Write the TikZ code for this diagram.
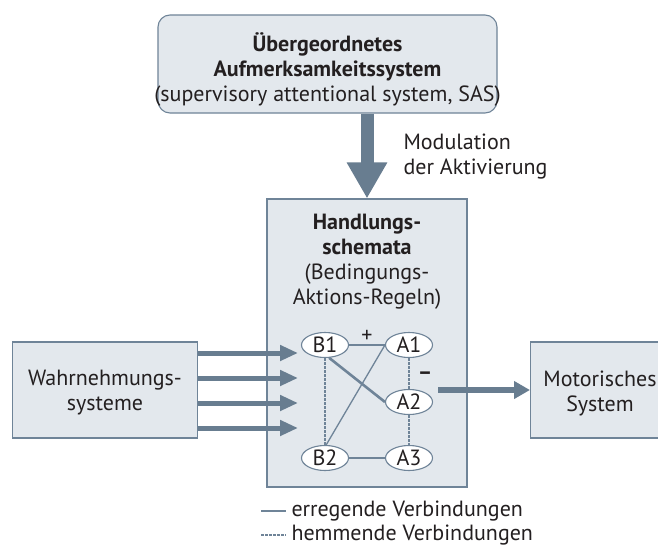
\documentclass[tikz,border=0pt]{standalone}
\usepackage{fontspec}
\setmainfont{PT Sans}
\usetikzlibrary{arrows.meta,shapes.geometric}
\definecolor{boxfill}{HTML}{E3E8ED}
\definecolor{edgec}{HTML}{6F8498}
\definecolor{arrowc}{HTML}{687D90}
\definecolor{txt}{HTML}{231F20}
\tikzset{
  panel/.style={draw=edgec,fill=boxfill,line width=1.1pt,inner sep=0pt},
  unit/.style={ellipse,draw=edgec,fill=white,line width=1.1pt,minimum width=47pt,minimum height=25pt,inner sep=0pt},
  excite/.style={draw=edgec,line width=1.3pt},
  inhibit/.style={draw=edgec,line width=1.1pt,dash pattern=on 2.5pt off 1.5pt},
  inarrow/.style={draw=arrowc,line width=5pt,-{Triangle[length=18pt,width=15pt]}},
  bigarrow/.style={draw=arrowc,line width=13pt,-{Triangle[length=36pt,width=38pt]}},
}
\begin{document}
\begin{tikzpicture}[x=1pt,y=-1pt,every node/.style={text=txt,font=\fontsize{22}{25}\selectfont}]
  \useasboundingbox[fill=white] (0,0) rectangle (658,549);
  \clip (0,0) rectangle (658,549);
  \node[panel,rounded corners=12pt,minimum width=339pt,minimum height=98pt] (sas) at (327.5,64) {};
  \node[align=center] (sastext) at (327.5,70) {\textbf{Übergeordnetes}\\\textbf{Aufmerksamkeitssystem}\\(supervisory attentional system, SAS)};
  \node[panel,minimum width=200pt,minimum height=288pt] (schema) at (367,343) {};
  \node[align=center] (schematext) at (367,262) {\textbf{Handlungs-}\\\textbf{schemata}\\(Bedingungs-\\Aktions-Regeln)};
  \draw[bigarrow] (sas.south -| schema.north) -- (schema.north);
  \node[align=left,anchor=west] (modul) at (400,157) {Modulation\\der Aktivierung};
  \node[panel,minimum width=185pt,minimum height=96pt] (wahr) at (105,390) {};
  \node[align=center] (wahrtext) at (105,393) {Wahrnehmungs-\\systeme};
  \node[panel,minimum width=185pt,minimum height=96pt,anchor=west] (mot) at (530,390) {};
  \node[align=center] (mottext) at (600,393) {Motorisches\\System};
  \node[unit] (B1) at (325,345) {B1};
  \node[unit] (A1) at (409,345) {A1};
  \node[unit] (A2) at (409,402) {A2};
  \node[unit] (B2) at (325,458) {B2};
  \node[unit] (A3) at (409,458) {A3};
  \draw[excite,line width=2pt] (B1.east) -- node[above=-2pt] (plus) {+} (A1.west);
  \draw[excite,line width=2.6pt] (B1.-72) -- (A2.west);
  \draw[excite] (A1.west) -- (B2.85);
  \draw[excite] (B2.east) -- (A3.west);
  \draw[inhibit] (B1.south) -- (B2.north);
  \draw[inhibit] (A1.south) -- node[right=5pt,yshift=-2pt] (minus) {\textbf{--}} (A2.north);
  \draw[inhibit] (A2.south) -- (A3.north);
  \foreach \y in {353,378,403,428}
    \draw[inarrow] (wahr.east |- 0,\y) -- (298,\y);
  \draw[draw=arrowc,line width=5.5pt,-{Triangle[length=16pt,width=17pt]}] ([xshift=5pt]A2.east |- mot.west) -- (mot.west);
  \node[anchor=west] (leg1) at (288,511) {erregende Verbindungen};
  \node[anchor=west] (leg2) at (288,535) {hemmende Verbindungen};
  \draw[excite,line width=1.2pt] ([xshift=-27pt]leg1.west) -- ([xshift=-2pt]leg1.west);
  \draw[inhibit,line width=1.2pt] ([xshift=-27pt]leg2.west) -- ([xshift=-2pt]leg2.west);
\end{tikzpicture}
\end{document}
